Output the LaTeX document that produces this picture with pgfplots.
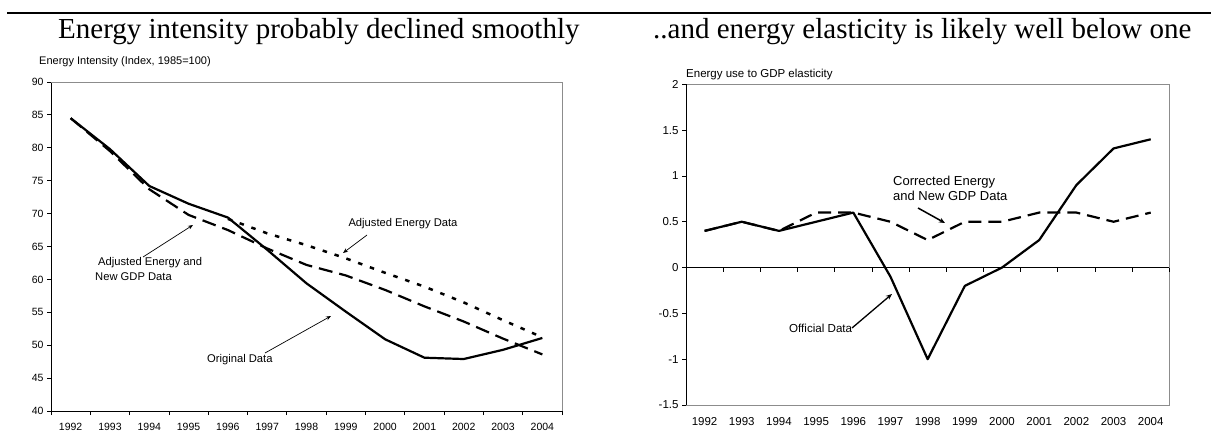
\documentclass[border=0pt]{standalone}
\usepackage{fontspec}
\setmainfont{Liberation Serif}
\newfontfamily\arial{Liberation Sans}
\usepackage{pgfplots}
\pgfplotsset{compat=1.18}
\usetikzlibrary{arrows.meta}
\definecolor{boxgray}{RGB}{140,140,140}

\begin{document}
\begin{tikzpicture}[x=1bp,y=1bp]
\useasboundingbox (0,0) rectangle (1211,432);
\draw[line width=2.7bp] (7,419) -- (1211,419);
\node[anchor=base west, inner sep=0, font=\fontsize{29bp}{32bp}\selectfont] at (58,393) {Energy intensity probably declined smoothly};
\node[anchor=base west, inner sep=0, font=\fontsize{29bp}{32bp}\selectfont] at (653,393) {..and energy elasticity is likely well below one};

% ---------------- left chart ----------------
\begin{axis}[
  at={(51bp,21bp)}, anchor=south west, scale only axis,
  width=511bp, height=329bp,
  xmin=0, xmax=13, ymin=40, ymax=90,
  axis x line*=bottom, axis y line*=left,
  axis line style={black, line width=1bp},
  tick align=outside, major tick length=4bp,
  tick style={black, line width=0.8bp},
  xtick={0,...,13},
  xticklabels={1992,1993,1994,1995,1996,1997,1998,1999,2000,2001,2002,2003,2004,{}},
  x tick label style={xshift=19.65bp, yshift=-4.5bp},
  ytick={40,45,...,90},
  /pgf/number format/assume math mode=true,
  ticklabel style={font=\arial\fontsize{10.5bp}{12bp}\selectfont},
  clip=false,
]
\draw[boxgray, line width=0.8bp] (rel axis cs:0,1) -- (rel axis cs:1,1) -- (rel axis cs:1,0);
% Original Data
\addplot[black, line width=2.2bp, line join=round] coordinates {
 (0.5,84.5) (1.5,79.8) (2.5,74.2) (3.5,71.5) (4.5,69.4) (5.5,64.5) (6.5,59.4)
 (7.5,55.1) (8.5,50.9) (9.5,48.1) (10.5,47.9) (11.5,49.3) (12.5,51.1)};
% Adjusted Energy and New GDP Data
\addplot[black, line width=2.2bp, dash pattern=on 14bp off 7bp] coordinates {
 (0.5,84.5) (1.5,79.5) (2.5,73.7) (3.5,69.8) (4.5,67.5) (5.5,64.7) (6.5,62.2)
 (7.5,60.6) (8.5,58.4) (9.5,55.9) (10.5,53.6) (11.5,51.0) (12.5,48.6)};
% Adjusted Energy Data
\addplot[black, line width=2.5bp, dash pattern=on 4.5bp off 8bp] coordinates {
 (4.5,69.2) (5.5,67.0) (6.5,65.2) (7.5,63.2) (8.5,61.0) (9.5,58.9) (10.5,56.5)
 (11.5,53.8) (12.5,51.2)};
\end{axis}

\node[anchor=west, inner sep=0, font=\arial\fontsize{11bp}{13bp}\selectfont] at (39,370) {Energy Intensity (Index, 1985=100)};
\node[font=\arial\fontsize{11.2bp}{13bp}\selectfont] at (403,208) {Adjusted Energy Data};
\draw[-{Stealth[length=5bp,width=4bp]}, line width=0.7bp] (367,197) -- (343,179);
\node[anchor=west, inner sep=0, font=\arial\fontsize{11.2bp}{13bp}\selectfont] at (98,169) {Adjusted Energy and};
\node[anchor=west, inner sep=0, font=\arial\fontsize{11.2bp}{13bp}\selectfont] at (95,155) {New GDP Data};
\draw[-{Stealth[length=5bp,width=4bp]}, line width=0.7bp] (143,175) -- (193,207);
\node[anchor=west, inner sep=0, font=\arial\fontsize{11.2bp}{13bp}\selectfont] at (207,72) {Original Data};
\draw[-{Stealth[length=5bp,width=4bp]}, line width=0.7bp] (265,79) -- (331,116);

% ---------------- right chart ----------------
\begin{axis}[
  at={(686bp,27bp)}, anchor=south west, scale only axis,
  width=483.3bp, height=320.7bp,
  xmin=0, xmax=13, ymin=-1.5, ymax=2,
  axis line style={boxgray, line width=0.8bp},
  tick align=outside, major tick length=4bp,
  tick style={black, line width=0.8bp},
  xtick=\empty,
  ytick={-1.5,-1,-0.5,0,0.5,1,1.5,2},
  yticklabels={-1.5,-1,-0.5,0,0.5,1,1.5,2},
  ytick pos=left,
  ticklabel style={font=\arial\fontsize{11.5bp}{13bp}\selectfont},
  clip=false,
]
\draw[black, line width=1bp] (rel axis cs:0,0) -- (rel axis cs:0,1);
% Official Data
\addplot[black, line width=2.2bp, line join=round] coordinates {
 (0.5,0.4) (1.5,0.5) (2.5,0.4) (3.5,0.5) (4.5,0.6) (5.5,-0.1) (6.5,-1.0)
 (7.5,-0.2) (8.5,0.0) (9.5,0.3) (10.5,0.9) (11.5,1.3) (12.5,1.4)};
% Corrected Energy and New GDP Data
\addplot[black, line width=2.2bp, dash pattern=on 13bp off 7bp] coordinates {
 (0.5,0.4) (1.5,0.5) (2.5,0.4) (3.5,0.6) (4.5,0.6) (5.5,0.5) (6.5,0.3)
 (7.5,0.5) (8.5,0.5) (9.5,0.6) (10.5,0.6) (11.5,0.5) (12.5,0.6)};
\end{axis}
% zero line with its tick marks
\begin{axis}[
  at={(686bp,27bp)}, anchor=south west, scale only axis,
  width=483.3bp, height=320.7bp,
  xmin=0, xmax=13, ymin=-1.5, ymax=2,
  axis x line*=middle, axis y line=none,
  axis line style={black, line width=1bp},
  tick align=outside, major tick length=4bp,
  tick style={black, line width=0.8bp},
  xtick={0,...,13}, xticklabels={},
  ytick=\empty,
]
\end{axis}
% category labels at the bottom
\begin{axis}[
  at={(686bp,27bp)}, anchor=south west, scale only axis,
  width=483.3bp, height=320.7bp,
  xmin=0, xmax=13, ymin=-1.5, ymax=2,
  axis x line*=bottom, axis y line=none,
  axis line style={draw=none},
  major tick length=0pt,
  tick style={draw=none},
  xtick={0.5,1.5,...,12.5},
  xticklabels={1992,1993,1994,1995,1996,1997,1998,1999,2000,2001,2002,2003,2004},
  x tick label style={yshift=-8.5bp},
  ticklabel style={font=\arial\fontsize{11.5bp}{13bp}\selectfont},
  ytick=\empty,
]
\end{axis}

\node[anchor=west, inner sep=0, font=\arial\fontsize{11.5bp}{13bp}\selectfont] at (686,357) {Energy use to GDP elasticity};
\node[anchor=west, inner sep=0, font=\arial\fontsize{13bp}{15bp}\selectfont] at (893,250) {Corrected Energy};
\node[anchor=west, inner sep=0, font=\arial\fontsize{13bp}{15bp}\selectfont] at (893,236) {and New GDP Data};
\draw[-{Stealth[length=6bp,width=5bp]}, line width=1.5bp] (918,224) -- (945,209);
\node[anchor=west, inner sep=0, font=\arial\fontsize{11.6bp}{13bp}\selectfont] at (789,104) {Official Data};
\draw[-{Stealth[length=6bp,width=5bp]}, line width=1.3bp] (852,104) -- (892,138);
\end{tikzpicture}
\end{document}
